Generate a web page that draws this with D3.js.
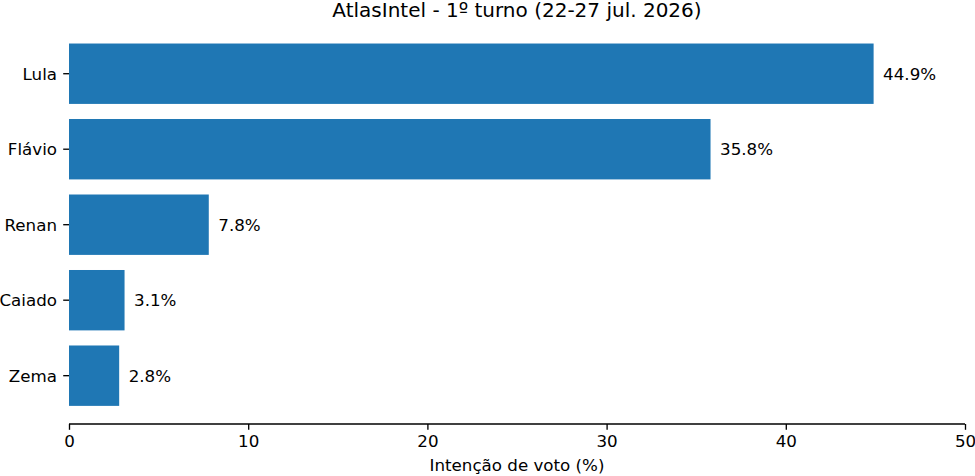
<!DOCTYPE html>
<html>
<head>
<meta charset="utf-8">
<script src="https://cdn.jsdelivr.net/npm/d3@7"></script>
<style>
	body { margin: 0; background: #fff; }
	text { font-family: "DejaVu Sans", sans-serif; fill: #000; }
</style>
</head>
<body>
<svg id="chart" width="975" height="476"></svg>
<script>
const candidates = ['Lula', 'Flávio', 'Renan', 'Caiado', 'Zema']
const votes = [44.9, 35.8, 7.8, 3.1, 2.8]
const xTicks = [0, 10, 20, 30, 40, 50]
const title = 'AtlasIntel - 1º turno (22-27 jul. 2026)'
const xLabel = 'Intenção de voto (%)'

const margin = { top: 25.4, right: 10, bottom: 52, left: 69 }
const width = 975 - margin.left - margin.right
const height = 476 - margin.top - margin.bottom
const fontSize = '16.7px'

const svg = d3.select('#chart')
const chart = svg.append('g')
	.attr('transform', `translate(${margin.left}, ${margin.top})`)

const x = d3.scaleLinear().domain([0, 50]).range([0, width])
// matplotlib style: bars at 0..n-1, height 0.8, 5% margins
const n = candidates.length
const y = d3.scaleLinear()
	.domain([-0.4 - 0.05 * (n - 0.2), n - 0.6 + 0.05 * (n - 0.2)])
	.range([0, height])

const data = candidates.map((name, i) => ({ name, value: votes[i], i }))

chart.selectAll('rect')
	.data(data)
	.join('rect')
	.attr('x', x(0))
	.attr('y', d => y(d.i - 0.4))
	.attr('width', d => x(d.value) - x(0))
	.attr('height', d => y(d.i + 0.4) - y(d.i - 0.4))
	.attr('fill', '#1f77b4')

chart.selectAll('.value')
	.data(data)
	.join('text')
	.attr('class', 'value')
	.attr('x', d => x(d.value) + 9.5)
	.attr('y', d => y(d.i))
	.attr('dy', '0.35em')
	.style('font-size', fontSize)
	.text(d => d.value.toFixed(1) + '%')

// x axis
const xAxis = chart.append('g')
	.attr('transform', `translate(0, ${height})`)
	.call(d3.axisBottom(x).tickValues(xTicks).tickSize(5.8).tickPadding(5.5).tickFormat(d3.format('d')))
xAxis.select('.domain').attr('stroke', '#000').attr('stroke-width', 1.33).attr('d', `M0,0H${width}`)
xAxis.selectAll('.tick line').attr('stroke', '#000').attr('stroke-width', 1.33)
xAxis.selectAll('text').style('font-size', fontSize).style('font-family', '"DejaVu Sans", sans-serif')

// y ticks, no spine
const yAxis = chart.append('g')
yAxis.selectAll('line')
	.data(data)
	.join('line')
	.attr('x1', -5.8)
	.attr('x2', 0)
	.attr('y1', d => y(d.i))
	.attr('y2', d => y(d.i))
	.attr('stroke', '#000')
	.attr('stroke-width', 1.33)
yAxis.selectAll('text')
	.data(data)
	.join('text')
	.attr('x', -12)
	.attr('y', d => y(d.i))
	.attr('dy', '0.35em')
	.attr('text-anchor', 'end')
	.style('font-size', fontSize)
	.text(d => d.name)

svg.append('text')
	.attr('x', margin.left + width / 2)
	.attr('y', 17)
	.attr('text-anchor', 'middle')
	.style('font-size', '20px')
	.text(title)

svg.append('text')
	.attr('x', margin.left + width / 2)
	.attr('y', 471)
	.attr('text-anchor', 'middle')
	.style('font-size', fontSize)
	.text(xLabel)
</script>
</body>
</html>
